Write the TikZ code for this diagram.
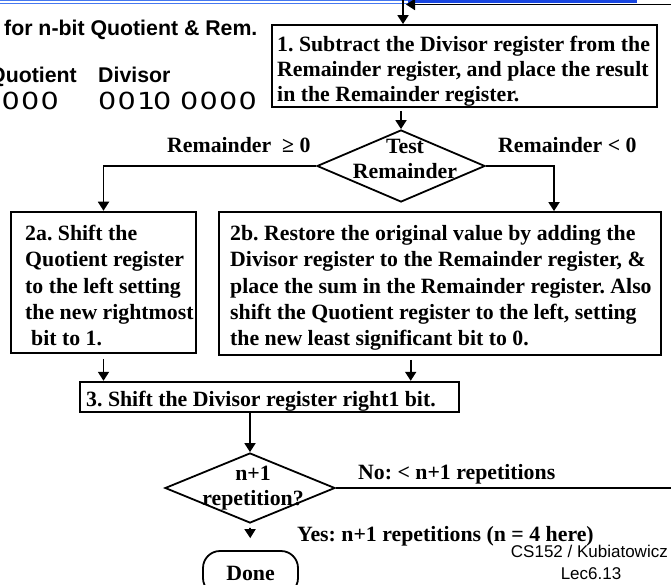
\documentclass[tikz,border=0pt]{standalone}
\usepackage{fontspec}
\usepackage{graphicx}
\setmainfont{Liberation Serif}
\newfontfamily\arialfont{Liberation Sans}
\newfontfamily\digitfont{DejaVu Sans}
\usetikzlibrary{shapes.geometric,arrows.meta}
\frenchspacing

% register bits: widened glyphs set on a fixed pitch
\newcommand\regglyph[1]{\scalebox{1.22}[1]{#1}}
\newcommand\regzero{\makebox[19.5pt][l]{\regglyph{0}}}
\newcommand\regone{\makebox[16pt][l]{\regglyph{1}}}

\definecolor{hdrblue}{RGB}{25,70,225}
\definecolor{hdrlight}{RGB}{70,120,240}

\tikzset{
  flowbox/.style={draw, line width=1.8pt, inner sep=0pt},
  flowtext/.style={font=\fontsize{21.8}{26.2}\selectfont\bfseries, inner sep=0pt, align=left},
  tighttext/.style={font=\fontsize{21.8}{25}\selectfont\bfseries, inner sep=0pt},
  decide/.style={draw, diamond, line width=1.8pt, inner sep=0pt},
  conn/.style={line width=1.8pt, -{Triangle[length=9pt,width=11pt]}},
  headtext/.style={font=\arialfont\fontsize{21.3}{25}\selectfont\bfseries, inner sep=0pt},
  regtext/.style={font=\digitfont\fontsize{23.5}{25}\selectfont, inner sep=0pt},
  foottext/.style={font=\arialfont\fontsize{17}{20}\selectfont, inner sep=0pt},
}

\begin{document}
\begin{tikzpicture}[x=1pt,y=-1pt]
\path[use as bounding box] (0,0) rectangle (671,585);
\clip (0,0) rectangle (671,585);

% header rule
\fill[hdrlight] (0,0) rectangle (408,1.2);
\fill[hdrlight] (0,2.7) rectangle (408,4.0);
\fill[hdrblue] (408,0) rectangle (637,3.4);

% register legend
\node[headtext, anchor=base west] (title) at (4,35.7) {for n-bit Quotient \& Rem.};
\node[headtext, anchor=base east] (qlabel) at (77,83) {Quotient};
\node[headtext, anchor=base west] (dlabel) at (98,83) {Divisor};
\node[regtext, anchor=base west] (qbits) at (-18,110) {\regzero\regzero\regzero\regglyph{0}};
\node[regtext, anchor=base west] (dhi) at (98,110) {\regzero\regzero\regone\regglyph{0}};
\node[regtext, anchor=base west] (dlo) at (180,110) {\regzero\regzero\regzero\regglyph{0}};

% step 1
\node[flowbox, minimum width=385.3, minimum height=82] (b1) at (464.35,66) {};
\node[tighttext, align=left, anchor=west] (t1) at (277,71.5)
  {1. Subtract the Divisor register from the\\Remainder register, and place the result\\in the Remainder register.};

% test remainder
\node[decide, minimum width=168, minimum height=72] (d1) at (401,166) {};
\node[tighttext, align=center] (td1) at (405,158.5) {Test\\Remainder};
\node[tighttext, anchor=base west] (lge) at (167,153) {Remainder\enspace ≥ 0};
\node[tighttext, anchor=base west] (llt) at (498,153) {Remainder < 0};

% step 2a / 2b
\node[flowbox, minimum width=185, minimum height=141.3] (b2a) at (103.5,282.3) {};
\node[flowtext, anchor=west] (t2a) at (25,285.6)
  {2a. Shift the\\Quotient register\\to the left setting\\the new rightmost\\\hspace*{6pt}bit to 1.};
\node[flowbox, minimum width=442, minimum height=143] (b2b) at (440,283.5) {};
\node[flowtext, anchor=west] (t2b) at (230,287.9)
  {2b. Restore the original value by adding the\\Divisor register to the Remainder register, \&\\place the sum in the Remainder register. Also\\shift the Quotient register to the left, setting\\the new least significant bit to 0.};

% step 3
\node[flowbox, minimum width=379, minimum height=30] (b3) at (269.5,396.7) {};
\node[tighttext, anchor=base west] (t3) at (86,406) {3. Shift the Divisor register right1 bit.};

% repetition test
\node[decide, minimum width=170, minimum height=70] (d2) at (250,488) {};
\node[tighttext, align=center] (td2) at (253,488.4) {n+1\\repetition?};
\node[tighttext, anchor=base west] (lno) at (358,479.5) {No: < n+1 repetitions};
\node[tighttext, anchor=base west] (lyes) at (297,541.7) {Yes: n+1 repetitions (n = 4 here)};

% terminal
\node[draw, rounded corners=17pt, line width=1.8pt, minimum width=95, minimum height=44,
      tighttext, inner sep=0pt] (done) at (250.5,573) {Done};

% footer
\node[foottext, anchor=base east] (course) at (668,557) {CS152 / Kubiatowicz};
\node[foottext, anchor=base] (lec) at (591,579) {Lec6.13};

% connectors
\coordinate (entry) at (403,-10);
\coordinate (rbranch) at (554,0);
\coordinate (join2b) at (410.7,0);
\coordinate (loopr) at (700,4.5);
\coordinate (loopin) at (406,4.5);

\draw[conn] (entry) -- (entry |- b1.north);
\draw[conn, shorten <=3pt] (d1.north |- b1.south) -- (d1.north);
\draw[conn] (d1.west) -| (b2a.north);
\draw[conn] (d1.east) -| (rbranch |- b2b.north);
\draw[conn, shorten <=5pt] (b2a.south) -- (b2a.south |- b3.north);
\draw[conn, shorten <=4pt] (join2b |- b2b.south) -- (join2b |- b3.north);
\draw[conn] (d2.north |- b3.south) -- (d2.north);
\draw[conn, shorten <=4pt, shorten >=12pt] (d2.south) -- (done.north);
\draw[conn] (d2.east) -| (loopr) -- (loopin);
\end{tikzpicture}
\end{document}
